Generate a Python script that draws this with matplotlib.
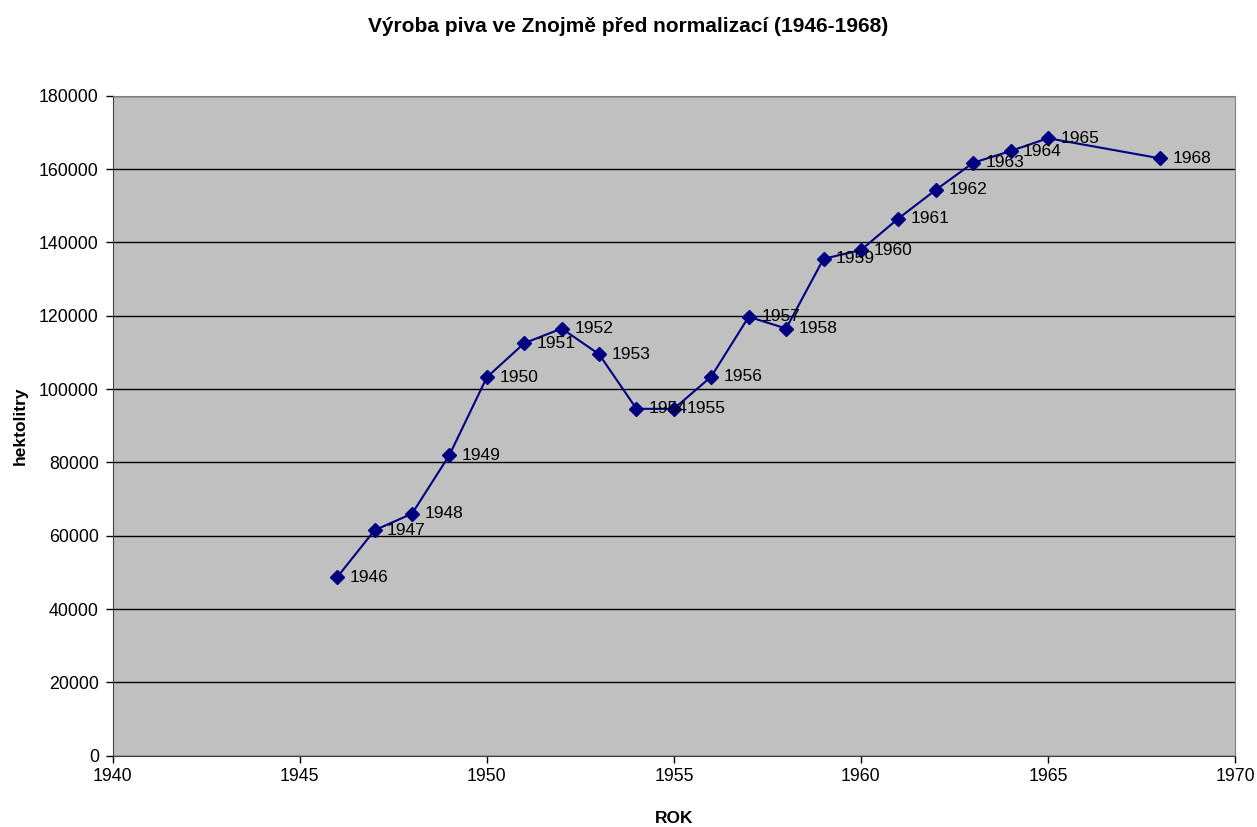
import matplotlib.pyplot as plt

# --- Data: beer production in Znojmo ---
years = [1946, 1947, 1948, 1949, 1950, 1951, 1952, 1953, 1954, 1955, 1956,
         1957, 1958, 1959, 1960, 1961, 1962, 1963, 1964, 1965, 1968]
hektolitry = [48700, 61500, 66000, 82000, 103200, 112500, 116500, 109500,
              94600, 94600, 103400, 119700, 116500, 135500, 137900, 146500,
              154300, 161700, 164900, 168400, 162900]
x_ticks = [1940, 1945, 1950, 1955, 1960, 1965, 1970]
y_ticks = list(range(0, 180001, 20000))

plt.rcParams['font.family'] = ['Liberation Sans', 'DejaVu Sans']

fig = plt.figure(figsize=(12.57, 8.27), dpi=100)
ax = fig.add_axes([0.0897, 0.0862, 0.8928, 0.7981])
ax.set_facecolor("#C0C0C0")

# --- Line with diamond markers ---
ax.plot(years, hektolitry, color="#000080", linewidth=1.5,
        marker="D", markersize=7.5, zorder=3)

for yr, val in zip(years, hektolitry):
    ax.annotate(str(yr), (yr, val), xytext=(9, 0), textcoords="offset points",
                ha="left", va="center", fontsize=12.5, color="black", zorder=4)

# --- Axes ---
ax.set_xlim(1940, 1970)
ax.set_ylim(0, 180000)
ax.set_xticks(x_ticks)
ax.set_yticks(y_ticks)
ax.tick_params(axis="both", labelsize=12.8, direction="out", length=5, width=1)
ax.tick_params(axis="y", pad=5)
ax.yaxis.grid(True, color="black", linewidth=1)
ax.set_axisbelow(True)

for side in ["top", "right"]:
    ax.spines[side].set_color("#808080")
for side in ["left", "bottom"]:
    ax.spines[side].set_color("#404040")

fig.text(0.5, 1 - 27 / 827, "Výroba piva ve Znojmě před normalizací (1946-1968)",
         fontsize=15, fontweight="bold", ha="center", va="center")
ax.set_xlabel("ROK", fontsize=12.5, fontweight="bold")
ax.xaxis.set_label_coords(0.5, -0.084)
ax.set_ylabel("hektolitry", fontsize=12.5, fontweight="bold")
ax.yaxis.set_label_coords(-0.076, 0.5)

fig.savefig("out.png", dpi=100)
